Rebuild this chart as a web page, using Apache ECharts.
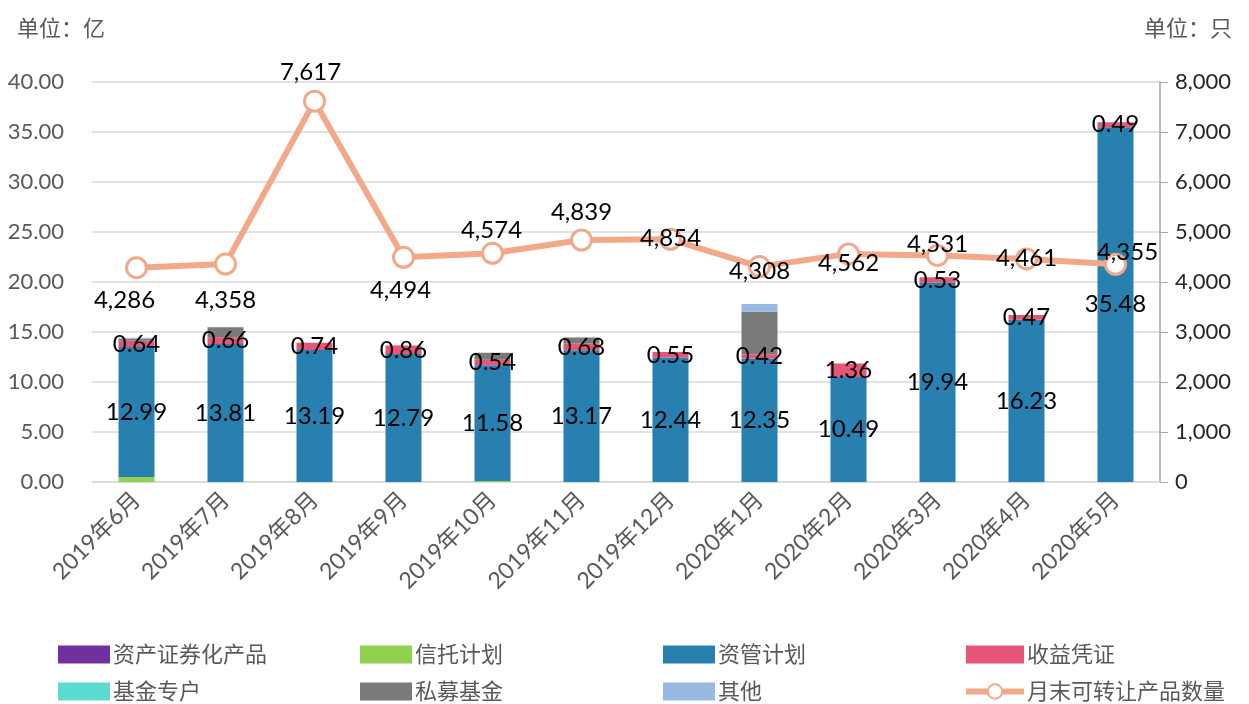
<!DOCTYPE html>
<html>
<head>
<meta charset="utf-8">
<script src="https://cdn.jsdelivr.net/npm/echarts@6/dist/echarts.min.js"></script>
<style>
  html, body { margin: 0; padding: 0; background: #fff; }
  #view { width: 1249px; height: 704px; }
</style>
</head>
<body>
<div id="view"></div>
<script>
var months = ['2019年6月', '2019年7月', '2019年8月', '2019年9月', '2019年10月', '2019年11月',
    '2019年12月', '2020年1月', '2020年2月', '2020年3月', '2020年4月', '2020年5月'];

// 单位：亿
var abs = [0, 0, 0, 0, 0, 0, 0, 0, 0, 0, 0, 0];          // 资产证券化产品
var trust = [0.5, 0, 0, 0, 0.1, 0, 0, 0, 0, 0, 0, 0];    // 信托计划
var amp = [12.99, 13.81, 13.19, 12.79, 11.58, 13.17, 12.44, 12.35, 10.49, 19.94, 16.23, 35.48]; // 资管计划
var notes = [0.64, 0.66, 0.74, 0.86, 0.54, 0.68, 0.55, 0.42, 1.36, 0.53, 0.47, 0.49]; // 收益凭证
var fundAcc = [0, 0, 0, 0, 0, 0, 0, 0, 0, 0, 0, 0];      // 基金专户
var privateFund = [0.2, 1.0, 0, 0, 0.7, 0.6, 0, 4.26, 0, 0, 0, 0]; // 私募基金
var others = [0.1, 0, 0, 0, 0, 0, 0, 0.77, 0, 0, 0, 0];  // 其他
// 单位：只
var counts = [4286, 4358, 7617, 4494, 4574, 4839, 4854, 4308, 4562, 4531, 4461, 4355];

var leftTicks = [0, 40, 5];
var rightTicks = [0, 8000, 1000];

// label nudges for the line labels (px)
var countLabelOffset = [[-12, 33], [0, 36], [-4, -29], [-3, 33], [-1, -23], [0, -28],
    [0, -1], [0, 5], [0, 9], [0, -11], [0, -1], [12, -12]];

var FONT = 'Lato, "Noto Sans CJK SC", sans-serif';
var GREY = '#595959';
var LINE_C = '#F1A98A';

function comma(v) {
    return String(v).replace(/\B(?=(\d{3})+(?!\d))/g, ',');
}

function barSeries(name, data, color, showLabel) {
    return {
        name: name, type: 'bar', stack: 'total', data: data, barWidth: 36,
        itemStyle: {color: color},
        label: {
            show: !!showLabel, position: 'inside', color: '#000',
            fontSize: 24, fontFamily: FONT,
            formatter: function(p) { return p.value.toFixed(2); }
        }
    };
}

function box(name) { return {name: name, icon: 'rect'}; }

var lineData = counts.map(function(v, i) {
    return {value: v, label: {offset: countLabelOffset[i]}};
});

var chart = echarts.init(document.getElementById('view'));
chart.setOption({
    animation: false,
    textStyle: {fontFamily: FONT},
    title: [
        {text: '单位：亿', left: 12, top: 13, textStyle: {fontSize: 22, fontWeight: 'normal', color: GREY, fontFamily: FONT}},
        {text: '单位：只', right: 12, top: 13, textStyle: {fontSize: 22, fontWeight: 'normal', color: GREY, fontFamily: FONT}}
    ],
    grid: {left: 92, right: 89, top: 82, bottom: 222},
    legend: [
        {data: [box('资产证券化产品'), box('基金专户')], left: 58},
        {data: [box('信托计划'), box('私募基金')], left: 360},
        {data: [box('资管计划'), box('其他')], left: 663},
        {data: [box('收益凭证'), {name: '月末可转让产品数量', lineStyle: {width: 6}}], left: 963, itemWidth: 58}
    ].map(function(l) {
        return Object.assign({
            orient: 'vertical', top: 643, height: 80, padding: 0, itemGap: 14,
            itemWidth: 52, itemHeight: 18,
            textStyle: {fontSize: 22, color: GREY, fontFamily: FONT, lineHeight: 23, padding: [0, 0, 0, -2]}
        }, l);
    }),
    xAxis: {
        type: 'category', data: months,
        axisLine: {lineStyle: {color: '#d9d9d9', width: 1.5}},
        axisTick: {show: false},
        axisLabel: {rotate: 45, fontSize: 23, color: GREY, margin: 14, interval: 0}
    },
    yAxis: [
        {
            type: 'value', min: leftTicks[0], max: leftTicks[1], interval: leftTicks[2],
            axisLine: {show: false}, axisTick: {show: false},
            axisLabel: {fontSize: 22, color: GREY, margin: 28, formatter: function(v) { return v.toFixed(2); }},
            splitLine: {lineStyle: {color: '#d9d9d9', width: 1.5}}
        },
        {
            type: 'value', min: rightTicks[0], max: rightTicks[1], interval: rightTicks[2],
            axisLine: {show: true, lineStyle: {color: '#a6a6a6', width: 1.5}},
            axisTick: {show: true, inside: false, length: 8, lineStyle: {color: '#a6a6a6'}},
            axisLabel: {fontSize: 22, color: '#262626', margin: 15, formatter: comma},
            splitLine: {show: false}
        }
    ],
    series: [
        barSeries('资产证券化产品', abs, '#7030A0'),
        barSeries('信托计划', trust, '#92D050'),
        barSeries('资管计划', amp, '#2780B0', true),
        barSeries('收益凭证', notes, '#E8557A', true),
        barSeries('基金专户', fundAcc, '#5CDBD0'),
        barSeries('私募基金', privateFund, '#7A7A7A'),
        barSeries('其他', others, '#98B9E0'),
        {
            name: '月末可转让产品数量', type: 'line', yAxisIndex: 1, data: lineData, z: 5,
            symbol: 'circle', symbolSize: 20,
            lineStyle: {color: LINE_C, width: 6},
            itemStyle: {color: '#fff', borderColor: LINE_C, borderWidth: 3},
            label: {show: true, position: 'inside', color: '#000', fontSize: 24, fontFamily: FONT, formatter: function(p) { return comma(p.value); }}
        }
    ]
});
</script>
</body>
</html>
